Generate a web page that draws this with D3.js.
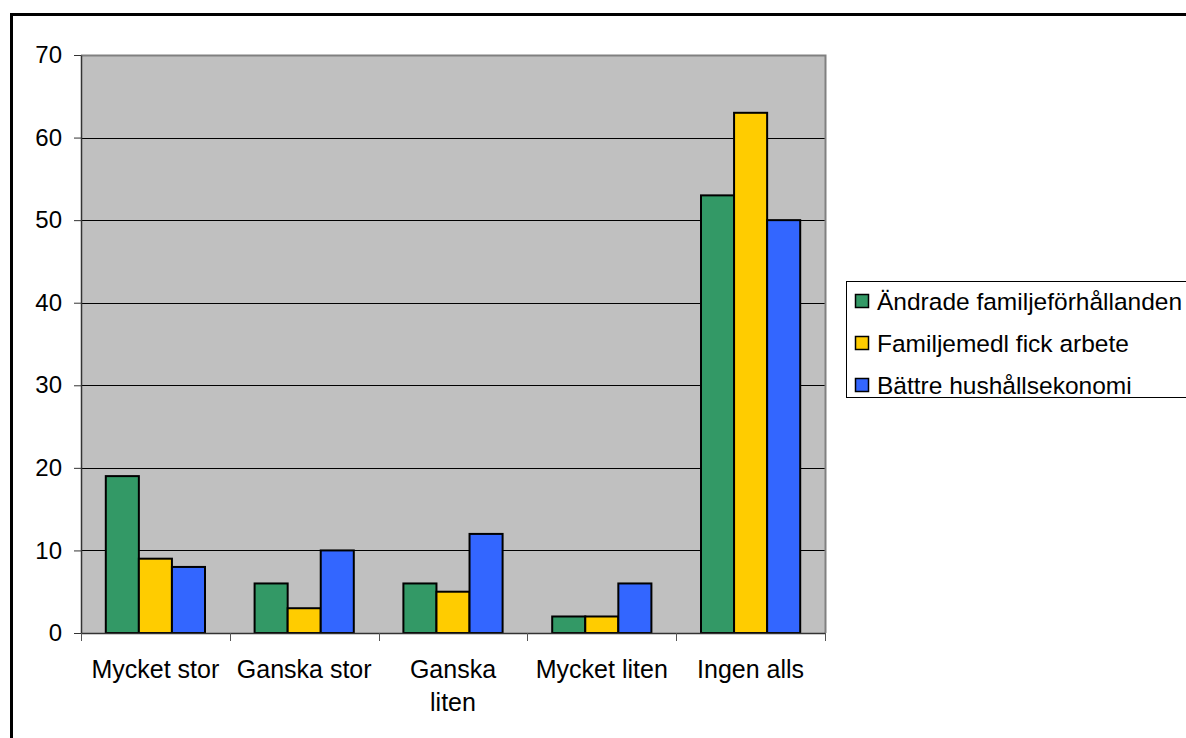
<!DOCTYPE html>
<html>
<head>
<meta charset="utf-8">
<script src="https://cdn.jsdelivr.net/npm/d3@7"></script>
<style>
  body { margin: 0; background: #fff; }
  svg { display: block; font-family: "Liberation Sans", Arial, sans-serif; }
</style>
</head>
<body>
<div id="chart"></div>
<script>
// data
var categories = ["Mycket stor", "Ganska stor", "Ganska liten", "Mycket liten", "Ingen alls"];
var seriesNames = ["Ändrade familjeförhållanden", "Familjemedl fick arbete", "Bättre hushållsekonomi"];
var andrade = [19, 6, 6, 2, 53];
var familjemedl = [9, 3, 5, 2, 63];
var battre = [8, 10, 12, 6, 50];
var yTicks = [0, 10, 20, 30, 40, 50, 60, 70];
var colors = ["#339966", "#FFCC00", "#3366FF"];

var seriesValues = [andrade, familjemedl, battre];

var W = 1186, H = 738;
var margin = {top: 55, left: 81, right: 1186 - 825, bottom: 738 - 633};
var width = W - margin.left - margin.right,
    height = H - margin.top - margin.bottom;

var svg = d3.select("#chart").append("svg")
  .attr("width", W)
  .attr("height", H);

// outer frame
svg.append("rect")
  .attr("x", 11.5).attr("y", 14.5)
  .attr("width", W + 20).attr("height", H + 20)
  .attr("fill", "none")
  .attr("stroke", "#000")
  .attr("stroke-width", 3);

var g = svg.append("g")
  .attr("transform", "translate(" + margin.left + "," + margin.top + ")");

var x = d3.scaleBand()
  .domain(categories)
  .range([0, width]);

// 3 bars + 150% gap
var x1 = d3.scaleBand()
  .domain(d3.range(seriesNames.length))
  .range([x.bandwidth() * 0.75 / 4.5, x.bandwidth() * 3.75 / 4.5]);

var y = d3.scaleLinear()
  .domain([0, 70])
  .range([height, 0]);

// plot background
g.append("rect")
  .attr("width", width)
  .attr("height", height)
  .attr("fill", "#C0C0C0");

// gridlines
g.selectAll(".grid")
  .data(yTicks.filter(function(d) { return d > 0 && d < 70; }))
  .enter().append("line")
  .attr("x1", 0).attr("x2", width)
  .attr("y1", function(d) { return Math.round(y(d)) + 0.5; })
  .attr("y2", function(d) { return Math.round(y(d)) + 0.5; })
  .attr("stroke", "#000")
  .attr("stroke-width", 1);

// plot border top/right
g.append("path")
  .attr("d", "M0,0.5H" + (width + 0.5) + "V" + height)
  .attr("fill", "none")
  .attr("stroke", "#808080")
  .attr("stroke-width", 2);

// bars
var rows = categories.map(function(c, i) {
  return seriesValues.map(function(s, j) { return {cat: c, s: j, v: s[i]}; });
});

g.selectAll(".grp")
  .data(rows)
  .enter().append("g")
  .attr("transform", function(d, i) { return "translate(" + x(categories[i]) + ",0)"; })
  .selectAll("rect")
  .data(function(d) { return d; })
  .enter().append("rect")
  .attr("x", function(d) { return x1(d.s); })
  .attr("y", function(d) { return y(d.v); })
  .attr("width", x1.bandwidth())
  .attr("height", function(d) { return height - y(d.v); })
  .attr("fill", function(d) { return colors[d.s]; })
  .attr("stroke", "#000")
  .attr("stroke-width", 2);

// y axis
var yAxis = g.append("g")
  .call(d3.axisLeft(y).tickValues(yTicks).tickSize(7).tickSizeOuter(0).tickPadding(12));
yAxis.select(".domain").attr("stroke", "#333").attr("stroke-width", 1.5);
yAxis.selectAll(".tick line").attr("stroke", "#333");
yAxis.selectAll("text")
  .attr("font-size", "24px")
  .attr("font-family", "Liberation Sans, Arial, sans-serif")
  .attr("fill", "#000");

// x axis with ticks at category boundaries
var xg = g.append("g").attr("transform", "translate(0," + height + ")");
xg.append("line")
  .attr("x1", 0).attr("x2", width)
  .attr("y1", 0.5).attr("y2", 0.5)
  .attr("stroke", "#333").attr("stroke-width", 1.5);
xg.selectAll(".xt")
  .data(d3.range(categories.length + 1))
  .enter().append("line")
  .attr("x1", function(i) { return Math.round(i * x.step()) + 0.5; })
  .attr("x2", function(i) { return Math.round(i * x.step()) + 0.5; })
  .attr("y1", 0).attr("y2", 8)
  .attr("stroke", "#555").attr("stroke-width", 1);

var labelLines = {"Ganska liten": ["Ganska", "liten"]};
xg.selectAll(".xl")
  .data(categories)
  .enter().append("text")
  .attr("x", function(d) { return x(d) + x.bandwidth() / 2; })
  .attr("y", 45)
  .attr("text-anchor", "middle")
  .attr("font-size", "25px")
  .attr("fill", "#000")
  .each(function(d) {
    var lines = labelLines[d] || [d];
    var t = d3.select(this);
    lines.forEach(function(l, i) {
      t.append("tspan")
        .attr("x", x(d) + x.bandwidth() / 2)
        .attr("dy", i === 0 ? 0 : 33)
        .text(l);
    });
  });

// legend
var legend = svg.append("g").attr("transform", "translate(846,281)");
legend.append("rect")
  .attr("x", 0.5).attr("y", 0.5)
  .attr("width", 400).attr("height", 116)
  .attr("fill", "#fff")
  .attr("stroke", "#000")
  .attr("stroke-width", 1);

var items = legend.selectAll(".li")
  .data(seriesNames)
  .enter().append("g")
  .attr("transform", function(d, i) { return "translate(0," + (20 + i * 42) + ")"; });
items.append("rect")
  .attr("x", 9.5).attr("y", -6.5)
  .attr("width", 13).attr("height", 13)
  .attr("fill", function(d, i) { return colors[i]; })
  .attr("stroke", "#000")
  .attr("stroke-width", 1.5);
items.append("text")
  .attr("x", 31)
  .attr("y", 9)
  .attr("font-size", "24.5px")
  .attr("fill", "#000")
  .text(function(d) { return d; });
</script>
</body>
</html>
